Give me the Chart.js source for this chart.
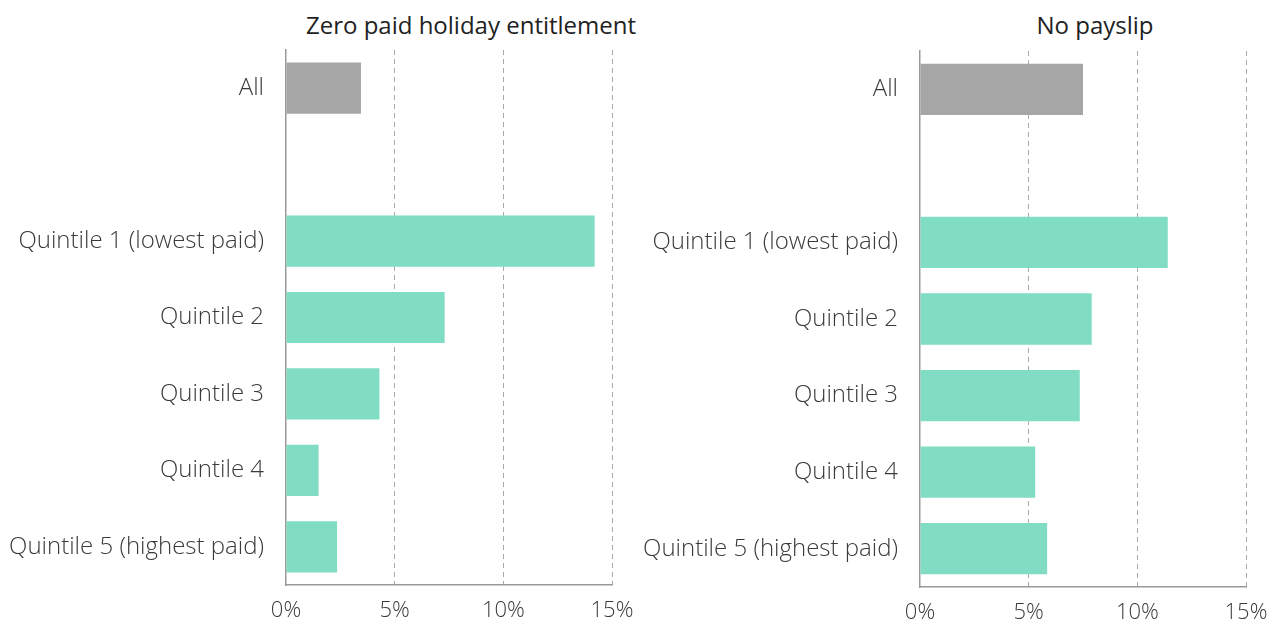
<!DOCTYPE html>
<html>
<head>
<meta charset="utf-8">
<script src="https://cdn.jsdelivr.net/npm/chart.js@4.4.1/dist/chart.umd.min.js"></script>
<style>
  html, body { margin: 0; padding: 0; background: #fff; }
  body { width: 1275px; height: 625px; position: relative; overflow: hidden; font-family: "Open Sans", Roboto, sans-serif; }
  .panel { position: absolute; top: 0; height: 625px; }
  .title { position: absolute; top: 8px; font-size: 24px; line-height: 34px; color: #222; white-space: nowrap; transform: translateX(-50%); font-weight: 500; }
</style>
</head>
<body>
<div class="title" style="left:471px">Zero paid holiday entitlement</div>
<div class="title" style="left:1095px">No payslip</div>
<div class="panel" style="left:0; width:640px"><canvas id="c1"></canvas></div>
<div class="panel" style="left:640px; width:635px"><canvas id="c2"></canvas></div>
<script>
const categories = ['All', '', 'Quintile 1 (lowest paid)', 'Quintile 2', 'Quintile 3', 'Quintile 4', 'Quintile 5 (highest paid)'];
const holidayValues = [3.45, null, 14.2, 7.3, 4.3, 1.5, 2.35];
const payslipValues = [7.5, null, 11.4, 7.9, 7.35, 5.3, 5.85];
const barColors = ['#a6a6a6', '#a6a6a6', '#80ddc3', '#80ddc3', '#80ddc3', '#80ddc3', '#80ddc3'];
const xTicks = [0, 5, 10, 15];
const FONT = '"Open Sans", Roboto, sans-serif';

function makeChart(id, values, yWidth, top, bottomH, rightPad) {
  const canvas = document.getElementById(id);
  const parent = canvas.parentElement;
  canvas.width = parent.clientWidth;
  canvas.height = 625;
  return new Chart(canvas, {
    type: 'bar',
    data: {
      labels: categories,
      datasets: [{
        data: values,
        backgroundColor: barColors,
        borderWidth: 0,
        barPercentage: 0.67,
        categoryPercentage: 1.0
      }]
    },
    options: {
      indexAxis: 'y',
      responsive: false,
      animation: false,
      layout: { padding: { top: top, right: rightPad, bottom: 0, left: 0 } },
      plugins: { legend: { display: false }, tooltip: { enabled: false }, title: { display: false } },
      scales: {
        x: {
          min: 0, max: 15,
          afterBuildTicks: (axis) => { axis.ticks = xTicks.map(v => ({ value: v })); },
          afterFit: (axis) => { axis.height = bottomH; axis.paddingLeft = 0; axis.paddingRight = 0; },
          ticks: {
            callback: (v) => v + '%',
            color: '#3a3a3a',
            font: { family: FONT, size: 22, weight: '300' },
            padding: 13,
            maxRotation: 0
          },
          grid: {
            color: (ctx) => (ctx.tick && ctx.tick.value === 0) ? 'rgba(0,0,0,0)' : '#aaaaaa',
            lineWidth: 1,
            drawTicks: false
          },
          border: { display: true, color: '#999999', width: 1.5, dash: [5, 4] }
        },
        y: {
          afterFit: (axis) => { axis.width = yWidth; },
          ticks: {
            color: '#3a3a3a',
            font: { family: FONT, size: 24, weight: '300' },
            padding: 22
          },
          grid: { display: false, drawTicks: false },
          border: { display: true, color: '#999999', width: 1.5 }
        }
      }
    }
  });
}

makeChart('c1', holidayValues, 286, 50, 40, 28);
makeChart('c2', payslipValues, 280, 51, 38, 29);
</script>
</body>
</html>
